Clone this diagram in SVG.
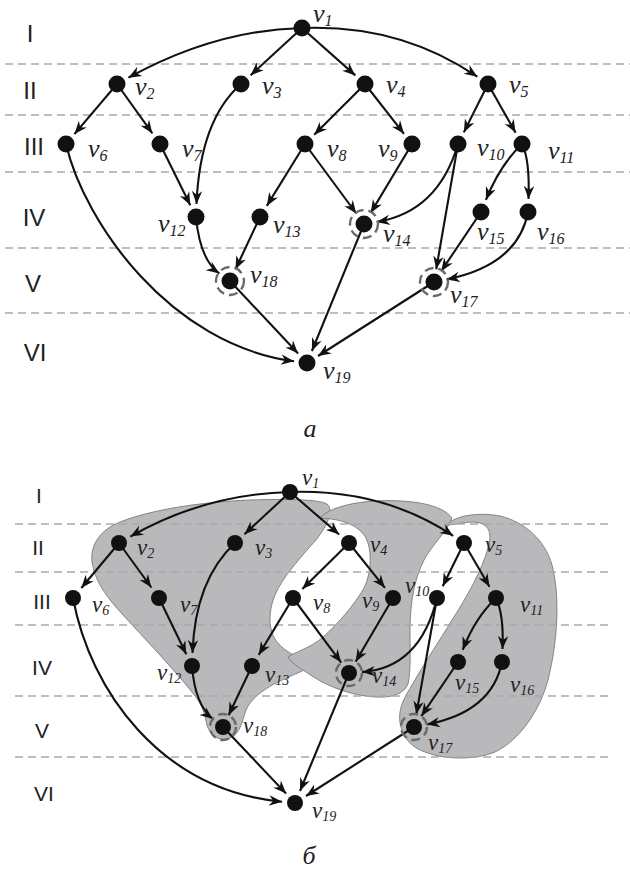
<svg xmlns="http://www.w3.org/2000/svg" width="630" height="872" viewBox="0 0 630 872">
  <style>
    .lvl { fill: none; stroke: #a9a9ad; stroke-width: 1.5; stroke-dasharray: 8 5; }
    .rom { font-family: "Liberation Sans", Arial, sans-serif; fill: #222; text-anchor: middle; }
    .ra { font-size: 24px; }
    .rb { font-size: 21px; }
    .edge { fill: none; stroke: #111; stroke-width: 2.1; marker-end: url(#arr); }
    .node { fill: #111; }
    .ring { fill: none; stroke: #6a6a6c; stroke-width: 2.4; stroke-dasharray: 9 5; }
    .lab { font-family: "Liberation Serif", "Times New Roman", serif; font-style: italic; fill: #222; }
    .la { font-size: 26px; }
    .lb { font-size: 23px; }
    .sa { font-size: 16px; }
    .sb { font-size: 14px; }
    .blob { fill: #b9b9bc; stroke: #7a7a7e; stroke-width: 0.9; }
    .cap { font-family: "Liberation Serif", "Times New Roman", serif; font-style: italic; font-size: 26px; fill: #222; text-anchor: middle; }
  </style>
  <defs>
    <marker id="arr" viewBox="-14 -7 16 14" refX="0" refY="0" markerWidth="16" markerHeight="14" markerUnits="userSpaceOnUse" orient="auto">
      <path d="M0,0 L-13,-5.2 L-9,0 L-13,5.2 Z" fill="#111"/>
    </marker>
  </defs>

  <!-- ===================== Graph (a) ===================== -->
  <g id="levels-a">
    <line class="lvl" x1="5" y1="64" x2="630" y2="64"/>
    <line class="lvl" x1="5" y1="115" x2="630" y2="115"/>
    <line class="lvl" x1="5" y1="172" x2="630" y2="172"/>
    <line class="lvl" x1="5" y1="248" x2="630" y2="248"/>
    <line class="lvl" x1="5" y1="313" x2="630" y2="313"/>
    <text class="rom ra" x="30" y="42">I</text>
    <text class="rom ra" x="30" y="99">II</text>
    <text class="rom ra" x="34" y="155">III</text>
    <text class="rom ra" x="34" y="226">IV</text>
    <text class="rom ra" x="33" y="292">V</text>
    <text class="rom ra" x="35" y="361">VI</text>
  </g>

  <g id="edges-a">
    <path class="edge" d="M302,28 Q215,30 128.4,77.7"/>
    <path class="edge" d="M302,28 L250.6,75.2"/>
    <path class="edge" d="M302,28 L355.3,75.4"/>
    <path class="edge" d="M302,28 Q400,24 477.3,76.7"/>
    <path class="edge" d="M117,84 L74.4,134.1"/>
    <path class="edge" d="M117,84 L152.4,133.4"/>
    <path class="edge" d="M241,84 Q200,120 196.5,204"/>
    <path class="edge" d="M365,84 L314.2,134.8"/>
    <path class="edge" d="M365,84 L404,133.8"/>
    <path class="edge" d="M488,84 L463.8,132.4"/>
    <path class="edge" d="M488,84 L515.6,132.7"/>
    <path class="edge" d="M66,144 C84,222 170,345 294.1,361.3"/>
    <path class="edge" d="M160,144 L190.3,205.3"/>
    <path class="edge" d="M305,144 L266.8,205.9"/>
    <path class="edge" d="M305,144 L356.3,213.5"/>
    <path class="edge" d="M412,144 L370.7,212.9"/>
    <path class="edge" d="M458,144 Q438,212 376.8,221.9"/>
    <path class="edge" d="M458,144 L436.2,269.2"/>
    <path class="edge" d="M522,144 Q500,165 485.9,199.9"/>
    <path class="edge" d="M522,144 Q530,160 528.5,199"/>
    <path class="edge" d="M196,217 Q200,260 219.4,273.5"/>
    <path class="edge" d="M260,217 L235.5,269.2"/>
    <path class="edge" d="M364,224 L311.9,351"/>
    <path class="edge" d="M481,212 L441.2,271.2"/>
    <path class="edge" d="M528,212 Q518,265 446.7,279.4"/>
    <path class="edge" d="M434,282 L318,356"/>
    <path class="edge" d="M230,281 L298.1,353.5"/>
  </g>

  <g id="a-v1"><circle class="node" cx="302" cy="28" r="8.5"/><text class="lab la" x="313" y="22">v<tspan class="sa" dy="4">1</tspan></text></g>
  <g id="a-v2"><circle class="node" cx="117" cy="84" r="8.5"/><text class="lab la" x="135" y="95">v<tspan class="sa" dy="4">2</tspan></text></g>
  <g id="a-v3"><circle class="node" cx="241" cy="84" r="8.5"/><text class="lab la" x="262" y="94">v<tspan class="sa" dy="4">3</tspan></text></g>
  <g id="a-v4"><circle class="node" cx="365" cy="84" r="8.5"/><text class="lab la" x="386" y="93">v<tspan class="sa" dy="4">4</tspan></text></g>
  <g id="a-v5"><circle class="node" cx="488" cy="84" r="8.5"/><text class="lab la" x="509" y="93">v<tspan class="sa" dy="4">5</tspan></text></g>
  <g id="a-v6"><circle class="node" cx="66" cy="144" r="8.5"/><text class="lab la" x="88" y="157">v<tspan class="sa" dy="4">6</tspan></text></g>
  <g id="a-v7"><circle class="node" cx="160" cy="144" r="8.5"/><text class="lab la" x="182" y="157">v<tspan class="sa" dy="4">7</tspan></text></g>
  <g id="a-v8"><circle class="node" cx="305" cy="144" r="8.5"/><text class="lab la" x="327" y="157">v<tspan class="sa" dy="4">8</tspan></text></g>
  <g id="a-v9"><circle class="node" cx="412" cy="144" r="8.5"/><text class="lab la" x="378" y="157">v<tspan class="sa" dy="4">9</tspan></text></g>
  <g id="a-v10"><circle class="node" cx="458" cy="144" r="8.5"/><text class="lab la" x="477" y="156">v<tspan class="sa" dy="4">10</tspan></text></g>
  <g id="a-v11"><circle class="node" cx="522" cy="144" r="8.5"/><text class="lab la" x="548" y="159">v<tspan class="sa" dy="4">11</tspan></text></g>
  <g id="a-v12"><circle class="node" cx="196" cy="217" r="8.5"/><text class="lab la" x="158" y="232">v<tspan class="sa" dy="4">12</tspan></text></g>
  <g id="a-v13"><circle class="node" cx="260" cy="217" r="8.5"/><text class="lab la" x="273" y="233">v<tspan class="sa" dy="4">13</tspan></text></g>
  <g id="a-v14"><circle class="ring" cx="364" cy="224" r="14"/><circle class="node" cx="364" cy="224" r="8.5"/><text class="lab la" x="383" y="242">v<tspan class="sa" dy="4">14</tspan></text></g>
  <g id="a-v15"><circle class="node" cx="481" cy="212" r="8.5"/><text class="lab la" x="477" y="240">v<tspan class="sa" dy="4">15</tspan></text></g>
  <g id="a-v16"><circle class="node" cx="528" cy="212" r="8.5"/><text class="lab la" x="537" y="240">v<tspan class="sa" dy="4">16</tspan></text></g>
  <g id="a-v17"><circle class="ring" cx="434" cy="282" r="14"/><circle class="node" cx="434" cy="282" r="8.5"/><text class="lab la" x="450" y="303">v<tspan class="sa" dy="4">17</tspan></text></g>
  <g id="a-v18"><circle class="ring" cx="230" cy="281" r="14"/><circle class="node" cx="230" cy="281" r="8.5"/><text class="lab la" x="250" y="283">v<tspan class="sa" dy="4">18</tspan></text></g>
  <g id="a-v19"><circle class="node" cx="307" cy="363" r="8.5"/><text class="lab la" x="323" y="379">v<tspan class="sa" dy="4">19</tspan></text></g>

  <text class="cap" x="310" y="437">a</text>

  <!-- ===================== Graph (b) ===================== -->
  <g id="blobs-b">
    <path id="blob-left" class="blob" d="M92,562 C90,545 100,530 120,522 C150,510 200,502 250,500 C285,499 318,499 327,504 C334,510 328,525 316,540 C300,558 282,578 275,595 C268,612 268,630 277,642 C286,653 302,660 316,664 C306,670 292,675 278,682 C262,690 250,700 246,710 C242,722 240,734 230,738 C220,742 210,736 207,725 C205,716 204,710 198,700 C185,682 160,655 135,628 C115,606 96,588 92,562 Z"/>
    <path id="blob-mid" class="blob" d="M320,518 C332,504 372,499 400,501 C425,502 445,508 452,518 C448,530 432,545 424,560 C414,580 411,600 410,625 C410,650 411,670 408,684 C404,694 392,698 375,697 C355,696 330,688 312,676 C300,668 290,662 288,657 C295,652 310,648 322,638 C338,624 355,604 364,588 C372,572 372,550 366,538 C360,527 345,519 320,518 Z"/>
    <path id="blob-right" class="blob" d="M447,525 C455,515 480,512 500,516 C525,522 545,540 552,565 C560,595 558,640 548,680 C540,710 520,740 495,752 C475,760 445,760 425,752 C405,745 398,728 400,712 C402,700 408,692 415,680 C425,662 440,640 452,620 C468,595 482,570 488,548 C492,535 490,526 480,523 C470,520 455,525 447,525 Z"/>
  </g>

  <g id="levels-b">
    <line class="lvl" x1="15" y1="524" x2="610" y2="524"/>
    <line class="lvl" x1="15" y1="572" x2="610" y2="572"/>
    <line class="lvl" x1="15" y1="625" x2="610" y2="625"/>
    <line class="lvl" x1="15" y1="696" x2="610" y2="696"/>
    <line class="lvl" x1="15" y1="757" x2="610" y2="757"/>
    <text class="rom rb" x="39" y="503">I</text>
    <text class="rom rb" x="38" y="555">II</text>
    <text class="rom rb" x="42" y="609">III</text>
    <text class="rom rb" x="42" y="675">IV</text>
    <text class="rom rb" x="42" y="738">V</text>
    <text class="rom rb" x="44" y="801">VI</text>
  </g>

  <g id="edges-b">
    <path class="edge" d="M290,492 Q205,494 130.3,536.6"/>
    <path class="edge" d="M290,492 L244.5,534.2"/>
    <path class="edge" d="M290,492 L339.2,534.5"/>
    <path class="edge" d="M290,492 Q383,489 453.2,535.8"/>
    <path class="edge" d="M119,543 L81.3,588"/>
    <path class="edge" d="M119,543 L151.4,587.5"/>
    <path class="edge" d="M235,543 Q195,580 192.5,653"/>
    <path class="edge" d="M349,543 L302.3,588.9"/>
    <path class="edge" d="M349,543 L384.9,587.8"/>
    <path class="edge" d="M464,543 L442.7,586.3"/>
    <path class="edge" d="M464,543 L489.5,586.8"/>
    <path class="edge" d="M73,598 C90,690 160,790 282.1,801.8"/>
    <path class="edge" d="M159,598 L186.3,654.3"/>
    <path class="edge" d="M293,598 L258.7,654.9"/>
    <path class="edge" d="M293,598 L341.2,662.6"/>
    <path class="edge" d="M393,598 L355.6,661.8"/>
    <path class="edge" d="M437,598 Q420,668 362,672.1"/>
    <path class="edge" d="M437,598 L416.3,714.2"/>
    <path class="edge" d="M496,598 Q475,618 462.7,649.9"/>
    <path class="edge" d="M496,598 Q504,615 502.5,649"/>
    <path class="edge" d="M192,666 Q195,705 212.8,719"/>
    <path class="edge" d="M252,666 L228.6,715.2"/>
    <path class="edge" d="M349,673 L300,791"/>
    <path class="edge" d="M458,662 L421.3,716.2"/>
    <path class="edge" d="M502,662 Q492,712 426.8,724.5"/>
    <path class="edge" d="M414,727 L306,796"/>
    <path class="edge" d="M223,727 L286.1,793.6"/>
  </g>

  <g id="b-v1"><circle class="node" cx="290" cy="492" r="8"/><text class="lab lb" x="302" y="485">v<tspan class="sb" dy="3">1</tspan></text></g>
  <g id="b-v2"><circle class="node" cx="119" cy="543" r="8"/><text class="lab lb" x="137" y="555">v<tspan class="sb" dy="3">2</tspan></text></g>
  <g id="b-v3"><circle class="node" cx="235" cy="543" r="8"/><text class="lab lb" x="255" y="555">v<tspan class="sb" dy="3">3</tspan></text></g>
  <g id="b-v4"><circle class="node" cx="349" cy="543" r="8"/><text class="lab lb" x="370" y="552">v<tspan class="sb" dy="3">4</tspan></text></g>
  <g id="b-v5"><circle class="node" cx="464" cy="543" r="8"/><text class="lab lb" x="485" y="552">v<tspan class="sb" dy="3">5</tspan></text></g>
  <g id="b-v6"><circle class="node" cx="73" cy="598" r="8"/><text class="lab lb" x="92" y="612">v<tspan class="sb" dy="3">6</tspan></text></g>
  <g id="b-v7"><circle class="node" cx="159" cy="598" r="8"/><text class="lab lb" x="180" y="612">v<tspan class="sb" dy="3">7</tspan></text></g>
  <g id="b-v8"><circle class="node" cx="293" cy="598" r="8"/><text class="lab lb" x="313" y="610">v<tspan class="sb" dy="3">8</tspan></text></g>
  <g id="b-v9"><circle class="node" cx="393" cy="598" r="8"/><text class="lab lb" x="362" y="608">v<tspan class="sb" dy="3">9</tspan></text></g>
  <g id="b-v10"><circle class="node" cx="437" cy="598" r="8"/><text class="lab lb" x="405" y="593">v<tspan class="sb" dy="3">10</tspan></text></g>
  <g id="b-v11"><circle class="node" cx="496" cy="598" r="8"/><text class="lab lb" x="520" y="612">v<tspan class="sb" dy="3">11</tspan></text></g>
  <g id="b-v12"><circle class="node" cx="192" cy="666" r="8"/><text class="lab lb" x="157" y="680">v<tspan class="sb" dy="3">12</tspan></text></g>
  <g id="b-v13"><circle class="node" cx="252" cy="666" r="8"/><text class="lab lb" x="265" y="682">v<tspan class="sb" dy="3">13</tspan></text></g>
  <g id="b-v14"><circle class="ring" cx="349" cy="673" r="13"/><circle class="node" cx="349" cy="673" r="8"/><text class="lab lb" x="372" y="683">v<tspan class="sb" dy="3">14</tspan></text></g>
  <g id="b-v15"><circle class="node" cx="458" cy="662" r="8"/><text class="lab lb" x="455" y="690">v<tspan class="sb" dy="3">15</tspan></text></g>
  <g id="b-v16"><circle class="node" cx="502" cy="662" r="8"/><text class="lab lb" x="510" y="692">v<tspan class="sb" dy="3">16</tspan></text></g>
  <g id="b-v17"><circle class="ring" cx="414" cy="727" r="13"/><circle class="node" cx="414" cy="727" r="8"/><text class="lab lb" x="428" y="750">v<tspan class="sb" dy="3">17</tspan></text></g>
  <g id="b-v18"><circle class="ring" cx="223" cy="727" r="13"/><circle class="node" cx="223" cy="727" r="8"/><text class="lab lb" x="243" y="733">v<tspan class="sb" dy="3">18</tspan></text></g>
  <g id="b-v19"><circle class="node" cx="295" cy="803" r="8"/><text class="lab lb" x="312" y="818">v<tspan class="sb" dy="3">19</tspan></text></g>

  <text class="cap" x="309" y="864">б</text>
</svg>
